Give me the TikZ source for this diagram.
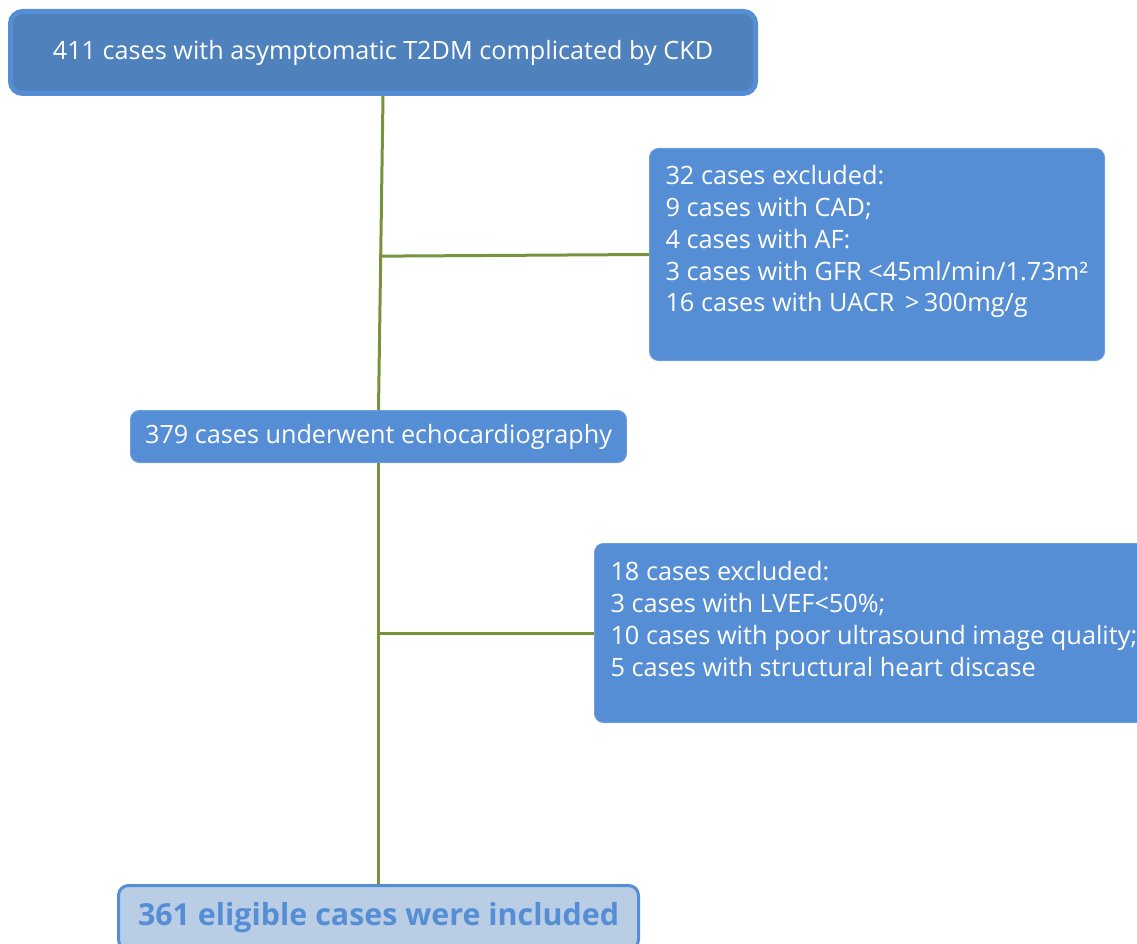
\documentclass[tikz,border=0pt]{standalone}
\usepackage{fontspec}
\setmainfont{Open Sans}
\usetikzlibrary{calc,positioning}

\definecolor{boxblue}{HTML}{558ED5}
\definecolor{topblue}{HTML}{4F81BD}
\definecolor{paleblue}{HTML}{B9CDE5}
\definecolor{stemgreen}{HTML}{77933C}

\tikzset{
	topbox/.style={draw=boxblue, line width=5pt, fill=topblue, rounded corners=12pt,
		text=white, font=\fontsize{25.2}{32}\selectfont, minimum width=745pt, minimum height=82pt},
	midbox/.style={draw=boxblue!85!white, line width=1pt, fill=boxblue, rounded corners=9pt,
		text=white, font=\fontsize{25.2}{32}\selectfont, minimum width=496pt, minimum height=52pt},
	exbox/.style={draw=boxblue!85!white, line width=1pt, fill=boxblue, rounded corners=9pt,
		text=white, font=\fontsize{25.3}{31.8}\selectfont, inner xsep=16pt, inner ysep=0pt, anchor=north west},
	endbox/.style={draw=boxblue, line width=3pt, fill=paleblue, rounded corners=10pt,
		text=boxblue, font=\fontsize{30.4}{36}\selectfont\bfseries, minimum width=520pt, minimum height=64pt,
		text height=24pt, text depth=8pt},
	stem/.style={draw=stemgreen, line width=3pt},
}

\begin{document}
\begin{tikzpicture}[x=1pt, y=-1pt]

% canvas %{{{2

	\useasboundingbox (0,0) rectangle (1137,944);
	\clip (0,0) rectangle (1137,944);

% boxes %{{{2

	\node[topbox] (top) at (383,52.5) {411 cases with asymptomatic T2DM complicated by CKD};

	\node[exbox] (ex1) at (649,148) {%
		\begin{minipage}[c][212pt][t]{423pt}
			\vspace*{17pt}
			32 cases excluded:\\
			9 cases with CAD;\\
			4 cases with AF:\\
			3 cases with GFR <45ml/min/1.73m²\\
			16 cases with UACR \,>\,300mg/g
		\end{minipage}};

	\node[midbox] (mid) at (378.5,436.5) {379 cases underwent echocardiography};

	\node[exbox] (ex2) at (594,543) {%
		\begin{minipage}[c][179pt][t]{560pt}
			\vspace*{18pt}
			18 cases excluded:\\
			3 cases with LVEF<50\%;\\
			10 cases with poor ultrasound image quality;\\
			5 cases with structural heart discase
		\end{minipage}};

	\node[endbox] (final) at (378.5,917.5) {361 eligible cases were included};

% stems and branches %{{{2

	\coordinate (b1) at ($(top.south)!0.51!(mid.north)$);
	\coordinate (b2) at (mid.south |- ex2.west);

	\draw[stem] (top.south) -- (mid.north);
	\draw[stem] (b1) -- (ex1.west);

	\draw[stem] (mid.south) -- (final.north);
	\draw[stem] (b2) -- (ex2.west);

% closing %{{{2

\end{tikzpicture}
\end{document}
